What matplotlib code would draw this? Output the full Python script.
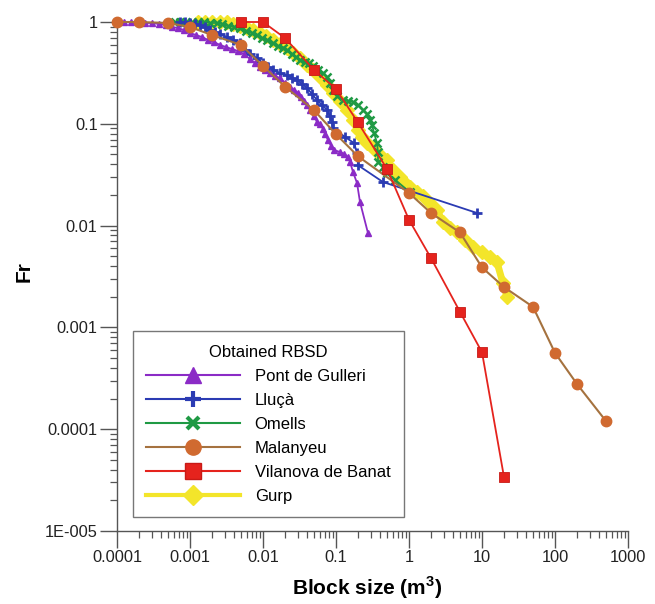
import matplotlib
matplotlib.use("Agg")
import matplotlib.pyplot as plt
from matplotlib.lines import Line2D
from matplotlib.ticker import FixedLocator, LogLocator, NullFormatter

plt.rcParams['font.family'] = ['Liberation Sans', 'DejaVu Sans']
plt.rcParams['mathtext.fontset'] = 'custom'
plt.rcParams['mathtext.rm'] = 'Liberation Sans'
plt.rcParams['mathtext.bf'] = 'Liberation Sans:bold'

# ---------------- data ----------------
pont_x = [1e-4, 1.25e-4, 1.55e-4, 1.94e-4, 2.42e-4, 3.02e-4, 3.76e-4, 4.69e-4, 5.67e-4, 6.85e-4,
          8.28e-4, 1.0e-3, 1.21e-3, 1.46e-3, 1.77e-3, 2.13e-3, 2.58e-3, 3.11e-3, 3.76e-3, 4.55e-3,
          5.5e-3, 6.64e-3, 7.77e-3, 9.1e-3, 0.0106, 0.0125, 0.0146, 0.0171, 0.020, 0.0234,
          0.0266, 0.0302, 0.0332, 0.0365, 0.0401, 0.0441, 0.050, 0.055, 0.0604, 0.0664,
          0.0707, 0.0777, 0.0855, 0.094, 0.1135, 0.129, 0.146, 0.156, 0.171, 0.194, 0.213, 0.274]
pont_y = [1.0, 1.0, 1.0, 1.0, 0.978, 0.978, 0.956, 0.934, 0.893, 0.873,
          0.834, 0.780, 0.745, 0.712, 0.666, 0.636, 0.594, 0.568, 0.543, 0.519,
          0.485, 0.433, 0.396, 0.361, 0.338, 0.316, 0.295, 0.282, 0.252, 0.230,
          0.215, 0.201, 0.183, 0.168, 0.153, 0.137, 0.119, 0.104, 0.0995, 0.0889,
          0.0794, 0.0693, 0.0605, 0.0553, 0.0528, 0.0505, 0.0472, 0.0421, 0.0336, 0.0262, 0.0171, 0.00846]

llluca_x = [7.29e-4, 8.54e-4, 1.0e-3, 1.17e-3, 1.37e-3, 1.60e-3, 1.88e-3, 2.2e-3, 2.58e-3, 3.21e-3,
            3.88e-3, 4.84e-3, 5.66e-3, 6.64e-3, 8.28e-3, 0.010, 0.0117, 0.0137, 0.0171, 0.0213,
            0.025, 0.0292, 0.0342, 0.0401, 0.0469, 0.055, 0.0643, 0.0753, 0.0828, 0.0881,
            0.091, 0.133, 0.177, 0.194, 0.200, 0.44, 8.55]
llluca_y = [1.0, 1.0, 0.978, 0.956, 0.934, 0.893, 0.834, 0.798, 0.762, 0.712,
            0.666, 0.622, 0.531, 0.485, 0.443, 0.396, 0.361, 0.338, 0.316, 0.302,
            0.282, 0.270, 0.246, 0.225, 0.196, 0.171, 0.153, 0.137, 0.119, 0.104,
            0.0909, 0.0742, 0.0646, 0.0515, 0.0392, 0.0268, 0.0133]

omells_x = [6.23e-4, 7.29e-4, 8.81e-4, 1.06e-3, 1.29e-3, 1.56e-3, 1.88e-3, 2.34e-3, 2.74e-3, 3.32e-3,
            4.01e-3, 4.84e-3, 5.85e-3, 7.07e-3, 8.28e-3, 9.69e-3, 0.01135, 0.0137, 0.016, 0.0188,
            0.0213, 0.025, 0.0283, 0.0321, 0.0376, 0.0427, 0.0484, 0.0567, 0.0664, 0.0753,
            0.0828, 0.091, 0.103, 0.125, 0.146, 0.171, 0.200, 0.234, 0.266, 0.292,
            0.311, 0.332, 0.365, 0.376, 0.376, 0.44, 0.50, 0.643, 1.03]
omells_y = [1.0, 1.0, 1.0, 1.0, 1.0, 1.0, 0.978, 0.978, 0.956, 0.914,
            0.893, 0.873, 0.816, 0.780, 0.745, 0.696, 0.666, 0.622, 0.581, 0.555,
            0.531, 0.485, 0.453, 0.423, 0.405, 0.396, 0.370, 0.338, 0.316, 0.288,
            0.252, 0.215, 0.188, 0.171, 0.168, 0.164, 0.153, 0.137, 0.125, 0.109,
            0.0975, 0.0814, 0.0646, 0.0526, 0.0421, 0.0377, 0.0329, 0.0282, 0.0213]

malanyeu_x = [1e-4, 2e-4, 5e-4, 1e-3, 2e-3, 5e-3, 0.01, 0.02, 0.05, 0.1,
              0.2, 1, 2, 5, 10, 20, 50, 100, 200, 500]
malanyeu_y = [1.0, 1.0, 0.978, 0.893, 0.745, 0.595, 0.370, 0.232, 0.136, 0.079,
              0.048, 0.0209, 0.0133, 0.00856, 0.00388, 0.00249, 0.00159, 0.000562, 0.000278, 0.000120]

vilanova_x = [5e-3, 0.01, 0.02, 0.05, 0.1, 0.2, 0.5, 1, 2, 5, 10, 20]
vilanova_y = [1.0, 1.0, 0.696, 0.338, 0.220, 0.103, 0.036, 0.0114, 0.0048, 0.00142, 0.00057, 3.4e-5]

gurp_x = [1.29e-3, 1.60e-3, 2.0e-3, 2.58e-3, 3.21e-3, 3.88e-3, 4.84e-3, 6.04e-3, 7.3e-3, 9.1e-3,
          0.011, 0.0137, 0.0171, 0.0213, 0.0258, 0.0321, 0.0401, 0.0484, 0.0604, 0.0753,
          0.091, 0.1135, 0.1415, 0.171, 0.200, 0.227, 0.266, 0.321, 0.401, 0.50,
          0.604, 0.753, 0.881, 1.03, 1.29, 1.56, 1.94, 2.42, 2.92, 3.65,
          4.55, 5.85, 7.53, 10.0, 12.9, 16.0, 19.4, 22.0]
gurp_y = [1.0, 1.0, 1.0, 1.0, 1.0, 0.956, 0.914, 0.873, 0.834, 0.780,
          0.729, 0.666, 0.608, 0.555, 0.496, 0.443, 0.378, 0.338, 0.288, 0.241,
          0.201, 0.168, 0.137, 0.109, 0.0871, 0.0742, 0.0646, 0.0577, 0.0496, 0.0442,
          0.0353, 0.030, 0.0263, 0.0239, 0.0213, 0.0195, 0.0166, 0.0142, 0.0108, 0.0095,
          0.0087, 0.0072, 0.0062, 0.0055, 0.0049, 0.0044, 0.0027, 0.0020]

series_labels = ['Pont de Gulleri', 'Lluçà', 'Omells', 'Malanyeu', 'Vilanova de Banat', 'Gurp']
x_tick_values = [1e-4, 1e-3, 1e-2, 1e-1, 1, 10, 100, 1000]
x_tick_labels = ['0.0001', '0.001', '0.01', '0.1', '1', '10', '100', '1000']
y_tick_values = [1e-5, 1e-4, 1e-3, 1e-2, 1e-1, 1]
y_tick_labels = ['1E-005', '0.0001', '0.001', '0.01', '0.1', '1']

# ---------------- styles ----------------
c_purple = '#8B2BC6'
c_blue = '#2B3BB3'
c_green = '#1F9A44'
c_brown_line = '#A5723F'
c_brown_mk = '#D06A30'
c_red = '#E5231D'
c_yellow = '#F3E52A'

fig = plt.figure(figsize=(6.55, 6.04), dpi=100)
ax = fig.add_axes([117/655, 1-531/604, 511/655, 509/604])

ax.plot(gurp_x, gurp_y, color=c_yellow, lw=5, marker='D', ms=7, mfc=c_yellow, mec=c_yellow,
        clip_on=False, zorder=2, solid_joinstyle='round')
ax.plot(omells_x, omells_y, color=c_green, lw=1.3, marker='x', ms=6, mew=1.8, mec=c_green,
        clip_on=False, zorder=3)
ax.plot(llluca_x, llluca_y, color=c_blue, lw=1.3, marker='+', ms=7.5, mew=2, mec=c_blue,
        clip_on=False, zorder=4)
ax.plot(malanyeu_x, malanyeu_y, color=c_brown_line, lw=1.5, marker='o', ms=7.5,
        mfc=c_brown_mk, mec=c_brown_mk, clip_on=False, zorder=5)
ax.plot(vilanova_x, vilanova_y, color=c_red, lw=1.3, marker='s', ms=7,
        mfc=c_red, mec='#C81A16', mew=0.6, clip_on=False, zorder=6)
ax.plot(pont_x, pont_y, color=c_purple, lw=1.3, marker='^', ms=5, mfc=c_purple, mec=c_purple,
        clip_on=False, zorder=4.5)

ax.set_xscale('log')
ax.set_yscale('log')
ax.set_xlim(1e-4, 1000)
ax.set_ylim(1e-5, 1.0)

for s in ['top', 'right']:
    ax.spines[s].set_visible(False)
for s in ['left', 'bottom']:
    ax.spines[s].set_color('#555555')
    ax.spines[s].set_linewidth(1.0)

ax.xaxis.set_major_locator(FixedLocator(x_tick_values))
ax.set_xticklabels(x_tick_labels)
ax.yaxis.set_major_locator(FixedLocator(y_tick_values))
ax.set_yticklabels(y_tick_labels)
ax.xaxis.set_minor_locator(LogLocator(base=10, subs=range(2, 10), numticks=20))
ax.yaxis.set_minor_locator(LogLocator(base=10, subs=range(2, 10), numticks=20))
ax.xaxis.set_minor_formatter(NullFormatter())
ax.yaxis.set_minor_formatter(NullFormatter())
ax.tick_params(which='major', direction='out', length=12, width=1.0, color='#555555',
               labelsize=11.8, labelcolor='#222222', pad=2)
ax.tick_params(which='minor', direction='out', length=5, width=0.9, color='#555555')

ax.set_ylabel('Fr', fontsize=15, fontweight='bold')
ax.yaxis.set_label_coords(-0.163, 0.51)
ax.set_xlabel('Block size (m$^{\\mathbf{3}}$)', fontsize=15, fontweight='bold')
ax.xaxis.set_label_coords(0.49, -0.085)

handles = [
    Line2D([], [], color=c_purple, lw=1.5, marker='^', ms=11, mfc=c_purple, mec=c_purple),
    Line2D([], [], color=c_blue, lw=1.5, marker='+', ms=12, mew=3, mec=c_blue),
    Line2D([], [], color=c_green, lw=1.5, marker='x', ms=9, mew=3, mec=c_green),
    Line2D([], [], color=c_brown_line, lw=1.5, marker='o', ms=11, mfc=c_brown_mk, mec=c_brown_mk),
    Line2D([], [], color=c_red, lw=1.5, marker='s', ms=11, mfc=c_red, mec='#C81A16'),
    Line2D([], [], color=c_yellow, lw=3, marker='D', ms=10, mfc=c_yellow, mec=c_yellow),
]
leg = ax.legend(handles, series_labels, title='Obtained RBSD', loc='lower left',
                bbox_to_anchor=(16/511, 14/509), borderaxespad=0, fontsize=12, title_fontsize=12,
                handlelength=5.6, handletextpad=0.9, labelspacing=0.54, borderpad=0.8,
                fancybox=False, frameon=True, numpoints=1, framealpha=1)
leg.get_frame().set_edgecolor('#777777')
leg.get_frame().set_linewidth(1.0)
leg.set_zorder(10)

fig.savefig('out.png', dpi=100)
